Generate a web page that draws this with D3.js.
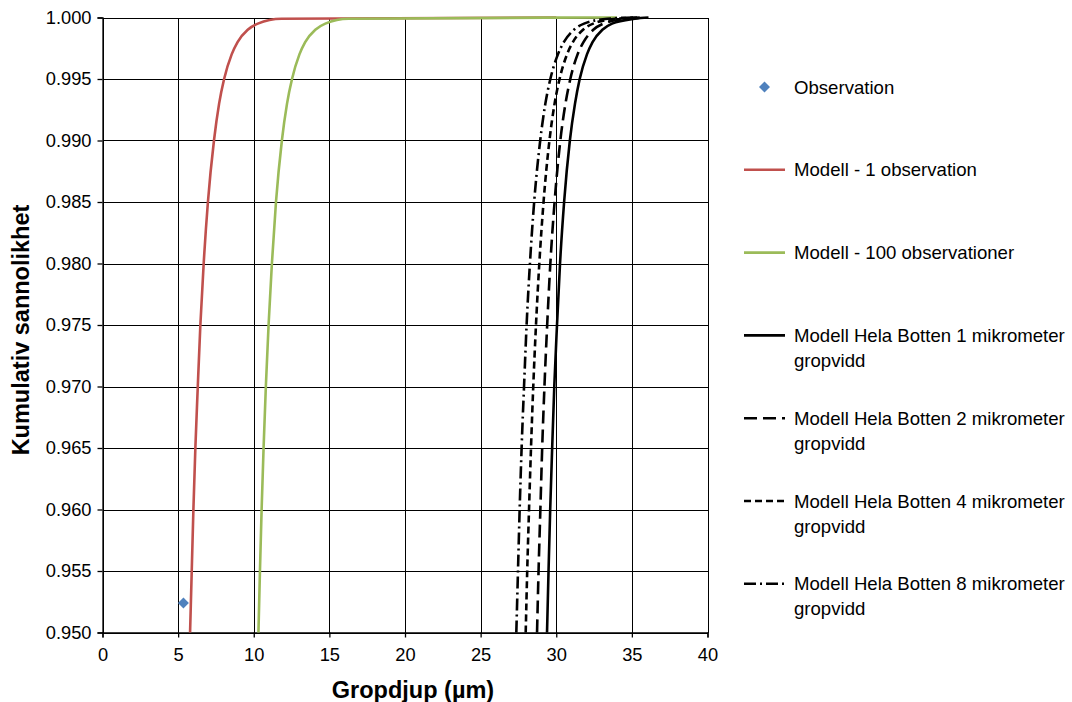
<!DOCTYPE html>
<html>
<head>
<meta charset="utf-8">
<script src="https://cdn.jsdelivr.net/npm/d3@7"></script>
<style>
  html, body { margin: 0; padding: 0; background: #fff; }
  svg { display: block; font-family: "Liberation Sans", Arial, sans-serif; }
</style>
</head>
<body>
<svg id="chart" width="1072" height="702"></svg>
<script>
// Cumulative probability levels shared by the model curves
const probLevels = [0.950, 0.955, 0.960, 0.965, 0.970, 0.975, 0.980, 0.985, 0.990,
                    0.993, 0.995, 0.997, 0.998, 0.999, 0.9995, 0.9999, 1.000];

// Pit depth (µm) per probability level for each model
const depthModel1 = [5.79, 5.90, 6.01, 6.14, 6.30, 6.47, 6.69, 6.97, 7.37,
                     7.71, 8.04, 8.54, 8.93, 9.60, 10.27, 11.83, 30.0];
const depthModel100 = [10.31, 10.41, 10.52, 10.65, 10.80, 10.98, 11.20, 11.47, 11.86,
                       12.20, 12.53, 13.02, 13.40, 14.07, 14.73, 16.27, 34.0];
const depthBotten1 = [29.39, 29.49, 29.60, 29.73, 29.87, 30.05, 30.25, 30.52, 30.90,
                      31.24, 31.55, 32.03, 32.40, 33.05, 33.69, 35.19, 36.1];
const depthBotten2 = [28.73, 28.83, 28.95, 29.07, 29.22, 29.40, 29.61, 29.89, 30.27,
                      30.61, 30.93, 31.41, 31.80, 32.45, 33.11, 34.63, 35.8];
const depthBotten4 = [27.98, 28.08, 28.20, 28.33, 28.48, 28.66, 28.88, 29.16, 29.55,
                      29.89, 30.22, 30.71, 31.10, 31.77, 32.44, 33.99, 35.5];
const depthBotten8 = [27.36, 27.47, 27.58, 27.71, 27.87, 28.04, 28.26, 28.54, 28.94,
                      29.28, 29.61, 30.11, 30.50, 31.17, 31.84, 33.40, 35.2];

// Single observed pit
const observationDepth = [5.35];
const observationProb = [0.9524];

// Axis ticks
const xTicks = [0, 5, 10, 15, 20, 25, 30, 35, 40];
const yTicks = [0.950, 0.955, 0.960, 0.965, 0.970, 0.975, 0.980, 0.985, 0.990, 0.995, 1.000];

// Series labels
const seriesNames = [
  "Observation",
  "Modell - 1 observation",
  "Modell - 100 observationer",
  "Modell Hela Botten 1 mikrometer gropvidd",
  "Modell Hela Botten 2 mikrometer gropvidd",
  "Modell Hela Botten 4 mikrometer gropvidd",
  "Modell Hela Botten 8 mikrometer gropvidd"
];

const lineSeries = [
  { name: seriesNames[1], depth: depthModel1,   color: "#C0504D", dash: null },
  { name: seriesNames[2], depth: depthModel100, color: "#9BBB59", dash: null },
  { name: seriesNames[3], depth: depthBotten1,  color: "#000000", dash: null },
  { name: seriesNames[4], depth: depthBotten2,  color: "#000000", dash: "13,6" },
  { name: seriesNames[5], depth: depthBotten4,  color: "#000000", dash: "7,4" },
  { name: seriesNames[6], depth: depthBotten8,  color: "#000000", dash: "12,4,2,4" }
];

const svg = d3.select("#chart");
const plot = { left: 102.5, right: 707.5, top: 17.5, bottom: 632.5 };

const x = d3.scaleLinear().domain([0, 40]).range([plot.left, plot.right]);
const y = d3.scaleLinear().domain([0.950, 1.000]).range([plot.bottom, plot.top]);

// Grid
const grid = svg.append("g").attr("shape-rendering", "crispEdges");
grid.selectAll("line.gx").data(xTicks).join("line")
  .attr("x1", d => Math.round(x(d)) + 0.5).attr("x2", d => Math.round(x(d)) + 0.5)
  .attr("y1", plot.top).attr("y2", plot.bottom)
  .attr("stroke", "#000").attr("stroke-width", 1);
grid.selectAll("line.gy").data(yTicks).join("line")
  .attr("y1", d => Math.round(y(d)) + 0.5).attr("y2", d => Math.round(y(d)) + 0.5)
  .attr("x1", plot.left).attr("x2", plot.right)
  .attr("stroke", "#000").attr("stroke-width", 1);

// Axes
const xAxis = d3.axisBottom(x).tickValues(xTicks).tickSize(5).tickPadding(11)
  .tickFormat(d3.format("d"));
const yAxis = d3.axisLeft(y).tickValues(yTicks).tickSize(5).tickPadding(6)
  .tickFormat(d3.format(".3f"));

const gx = svg.append("g").attr("transform", `translate(0,${plot.bottom})`).call(xAxis);
const gy = svg.append("g").attr("transform", `translate(${plot.left},0)`).call(yAxis);
[gx, gy].forEach(g => {
  g.select(".domain").attr("stroke", "#000").attr("stroke-width", 1.3);
  g.selectAll(".tick line").attr("stroke", "#000").attr("stroke-width", 1.3);
  g.selectAll(".tick text").attr("fill", "#000")
    .style("font-size", "18.3px").style("font-family", "'Liberation Sans', Arial, sans-serif");
});

// Axis titles
svg.append("text")
  .attr("x", (plot.left + plot.right) / 2 + 8).attr("y", 698)
  .attr("text-anchor", "middle")
  .style("font-size", "23.5px").style("font-weight", "bold")
  .text("Gropdjup (µm)");
svg.append("text")
  .attr("transform", `translate(29,${(plot.top + plot.bottom) / 2 + 5}) rotate(-90)`)
  .attr("text-anchor", "middle")
  .style("font-size", "23.5px").style("font-weight", "bold")
  .text("Kumulativ sannolikhet");

// Model curves
const line = d3.line()
  .x(d => x(d[0])).y(d => y(d[1]))
  .curve(d3.curveMonotoneX);

svg.append("g").selectAll("path").data(lineSeries).join("path")
  .attr("d", s => line(s.depth.map((v, i) => [v, probLevels[i]])))
  .attr("fill", "none")
  .attr("stroke", s => s.color)
  .attr("stroke-width", 2.6)
  .attr("stroke-dasharray", s => s.dash);

// Observation marker
const diamond = d3.symbol().type(d3.symbolSquare).size(60);
svg.append("g").selectAll("path")
  .data(observationDepth.map((v, i) => [v, observationProb[i]]))
  .join("path")
  .attr("d", diamond)
  .attr("transform", d => `translate(${x(d[0])},${y(d[1])}) rotate(45)`)
  .attr("fill", "#4F81BD");

// Legend
const legendTop = 87, legendStep = 82.8, legendX = 744, legendLen = 41, legendTextX = 794;
const legend = svg.append("g")
  .style("font-size", "18.6px").style("font-family", "'Liberation Sans', Arial, sans-serif");

legend.append("path")
  .attr("d", diamond)
  .attr("transform", `translate(${legendX + legendLen / 2},${legendTop}) rotate(45)`)
  .attr("fill", "#4F81BD");

const entries = legend.selectAll("g.entry")
  .data([{ name: seriesNames[0] }].concat(lineSeries))
  .join("g")
  .attr("transform", (d, i) => `translate(0,${legendTop + i * legendStep})`);

entries.filter((d, i) => i > 0).append("line")
  .attr("x1", legendX).attr("x2", legendX + legendLen)
  .attr("y1", 0).attr("y2", 0)
  .attr("stroke", d => d.color).attr("stroke-width", 2.6)
  .attr("stroke-dasharray", d => d.dash);

entries.each(function (d) {
  const t = d3.select(this).append("text").attr("x", legendTextX).attr("y", 6.5).attr("fill", "#000");
  const parts = d.name.startsWith("Modell Hela")
    ? [d.name.replace(" gropvidd", ""), "gropvidd"] : [d.name];
  parts.forEach((p, k) => t.append("tspan").attr("x", legendTextX).attr("dy", k === 0 ? 0 : 25).text(p));
});
</script>
</body>
</html>
